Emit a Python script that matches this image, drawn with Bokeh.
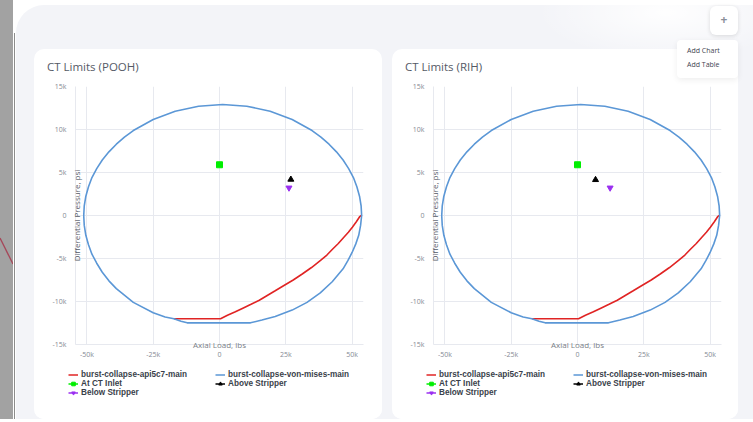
from bokeh.plotting import figure
from bokeh.models import Range1d, FixedTicker, Legend, LegendItem, Div
from bokeh.layouts import row, column
from bokeh.embed import file_html
from bokeh.resources import INLINE

FONT = "Open Sans"
LEG_FONT = "Liberation Sans"

# ---------------- data ----------------
von_mises_x = [53600, 53400, 52800, 51800, 50500, 48700, 46600, 44100, 41300, 38250, 34900, 27400,
               19100, 10300, 1200, -7900, -16700, -25000, -32500, -35850, -38900, -41700, -44200,
               -46300, -48100, -49400, -50400, -51000, -51200,
               -51000, -50400, -49400, -48100, -46300, -44200, -41700, -38900, -32500, -25000,
               -20500, -17200, -14500, -12200,
               11700, 16000, 21000, 27400, 33000, 38000, 42500, 46600, 48400, 50000, 51400,
               52500, 53200, 53600]
von_mises_y = [0, 1120, 2240, 3340, 4410, 5450, 6450, 7400, 8290, 9120, 9880, 11170,
               12130, 12710, 12900, 12710, 12130, 11170, 9880, 9120, 8290, 7400, 6450,
               5450, 4410, 3340, 2240, 1120, 0,
               -1150, -2300, -3400, -4500, -5550, -6600, -7600, -8500, -10100, -11300,
               -11800, -12000, -12300, -12480,
               -12480, -12150, -11750, -11000, -10100, -9000, -7700, -6200, -5250, -4300, -3300,
               -2300, -1150, 0]

api_x = [-17200, 400, 3000, 6000, 9000, 11700, 15000, 18000, 21000, 24300, 27800, 31200,
         34700, 38100, 40500, 42500, 44800, 46900, 48600, 50100, 51600, 52900, 53400]
api_y = [-12000, -12000, -11600, -11200, -10750, -10350, -9850, -9300, -8750, -8140, -7500, -6800,
         -6050, -5230, -4600, -3950, -3250, -2520, -1950, -1360, -720, -120, 0]

marker_names = ["At CT Inlet", "Above Stripper", "Below Stripper"]
marker_colors = ["#00ee00", "#000000", "#9b30f0"]
marker_shapes = ["square", "triangle", "inverted_triangle"]
pooh_marker_x = [0, 26900, 26200]
pooh_marker_y = [5900, 4190, 3220]
rih_marker_x = [0, 6800, 12300]
rih_marker_y = [5900, 4150, 3220]

x_ticks = [-50000, -25000, 0, 25000, 50000]
x_tick_labels = ["-50k", "-25k", "0", "25k", "50k"]
y_ticks = [-15000, -10000, -5000, 0, 5000, 10000, 15000]
y_tick_labels = ["-15k", "-10k", "-5k", "0", "5k", "10k", "15k"]

series_names = ["burst-collapse-api5c7-main", "burst-collapse-von-mises-main"]
chart_titles = ["CT Limits (POOH)", "CT Limits (RIH)"]
RED = "#e02424"
BLUE = "#5b97d6"
GRID = "#e7e9ef"


def make_title(text, width):
    html = ('<div style="position:absolute;left:13px;top:11px;font-family:\'Open Sans\';'
            'font-size:11.5px;line-height:14px;color:#555a66;white-space:nowrap;">%s</div>' % text)
    return Div(text=html, width=width, height=31, margin=0, styles={"position": "relative"})


def make_chart(mx, my, width, border_left, border_right):
    p = figure(width=width, height=285, output_backend="svg", toolbar_location=None,
               x_range=Range1d(-54300, 54300), y_range=Range1d(-15000, 15000),
               min_border_left=border_left, min_border_right=border_right,
               min_border_top=6, min_border_bottom=21,
               background_fill_color="white", border_fill_color="white",
               outline_line_color=None)

    for ax, ticks, labels in ((p.xaxis[0], x_ticks, x_tick_labels), (p.yaxis[0], y_ticks, y_tick_labels)):
        ax.ticker = FixedTicker(ticks=ticks)
        ax.major_label_overrides = {t: l for t, l in zip(ticks, labels)}
        ax.major_tick_line_color = None
        ax.major_tick_out = 0
        ax.major_tick_in = 0
        ax.minor_tick_line_color = None
        ax.minor_tick_out = 0
        ax.axis_line_color = GRID
        ax.major_label_text_font = FONT
        ax.major_label_text_font_size = "7px"
        ax.major_label_text_color = "#858a94"
        ax.axis_label_text_font = FONT
        ax.axis_label_text_font_size = "8px"
        ax.axis_label_text_font_style = "normal"
    p.xaxis.major_label_standoff = 5
    p.yaxis.major_label_standoff = 9
    p.xaxis.axis_label = "Axial Load, lbs"
    p.xaxis.axis_label_text_color = "#7a7f88"
    p.xaxis.axis_label_standoff = -23
    p.yaxis.axis_label = "Differential Pressure, psi"
    p.yaxis.axis_label_text_color = "#555a66"
    p.yaxis.axis_label_standoff = -32

    p.xgrid.ticker = FixedTicker(ticks=x_ticks)
    p.ygrid.ticker = FixedTicker(ticks=y_ticks)
    p.grid.grid_line_color = GRID

    p.line(api_x, api_y, line_color=RED, line_width=1.6)
    p.line(von_mises_x, von_mises_y, line_color=BLUE, line_width=1.6)
    for c, shp, x, y in zip(marker_colors, marker_shapes, mx, my):
        p.scatter([x], [y], marker=shp, size=6, fill_color=c, line_color=c)
    return p


def make_legend(mx, my, width):
    # small figure that only carries the legend (its glyph renderers lie outside its view)
    q = figure(width=width, height=54, output_backend="svg", toolbar_location=None,
               x_range=Range1d(-1e9, -1e9 + 1), y_range=Range1d(-1e9, -1e9 + 1),
               min_border=0, background_fill_color="white", border_fill_color="white",
               outline_line_color=None, x_axis_location=None, y_axis_location=None)
    q.grid.visible = False
    r_api = q.line(api_x, api_y, line_color=RED, line_width=1.6)
    r_vm = q.line(von_mises_x, von_mises_y, line_color=BLUE, line_width=1.6)
    items = [LegendItem(label=series_names[0], renderers=[r_api]),
             LegendItem(label=series_names[1], renderers=[r_vm])]
    for name, c, shp, x, y in zip(marker_names, marker_colors, marker_shapes, mx, my):
        ln = q.line([x, x], [y, y], line_color=c, line_width=1.6)
        sc = q.scatter([x], [y], marker=shp, size=6, fill_color=c, line_color=c)
        items.append(LegendItem(label=name, renderers=[ln, sc]))
    leg = Legend(items=items, orientation="horizontal", ncols=2, location=(34, 22),
                 glyph_width=10, glyph_height=9, label_height=9, label_width=134,
                 label_standoff=3, spacing=0, padding=0, margin=0,
                 label_text_font=LEG_FONT, label_text_font_size="8.2px", label_text_font_style="bold",
                 label_text_color="#3a3f4a", background_fill_alpha=0, border_line_color=None)
    q.add_layout(leg)
    return q


CARD_STYLE = {"background-color": "white", "border-radius": "10px", "overflow": "hidden"}
card1 = column(make_title(chart_titles[0], 348),
               make_chart(pooh_marker_x, pooh_marker_y, 348, 41, 19),
               row(make_legend(pooh_marker_x, pooh_marker_y, 348), margin=0),
               width=348, height=370, spacing=0, margin=0, styles=CARD_STYLE)
card2 = column(make_title(chart_titles[1], 346),
               make_chart(rih_marker_x, rih_marker_y, 346, 41, 17),
               row(make_legend(rih_marker_x, rih_marker_y, 346), margin=0),
               width=346, height=370, spacing=0, margin=0, styles=CARD_STYLE)

top_html = """
<div style="position:relative;width:737px;height:44px;">
 <div style="position:absolute;left:520px;top:-40px;width:260px;height:95px;
      background:radial-gradient(ellipse at center, rgba(255,255,255,0.95) 0%, rgba(255,255,255,0) 70%);"></div>
 <div style="position:absolute;left:694px;top:1px;width:28px;height:29px;background:#fff;border-radius:6px;
      box-shadow:0 1px 4px rgba(0,0,0,0.13);text-align:center;line-height:28px;color:#8a8f99;
      font-family:'Open Sans';font-weight:bold;font-size:12px;">+</div>
 <div style="position:absolute;left:661px;top:35px;width:61px;height:38px;background:#fff;border-radius:4px;
      box-shadow:0 2px 6px rgba(0,0,0,0.07);z-index:20;font-family:'Open Sans';font-size:7px;color:#3f4450;">
   <div style="position:absolute;left:10px;top:6px;">Add Chart</div>
   <div style="position:absolute;left:10px;top:20px;">Add Table</div>
 </div>
</div>
"""
top_div = Div(text=top_html, width=737, height=44, margin=0,
              styles={"overflow": "visible", "z-index": "20", "position": "relative"})

cards = row(card1, card2, spacing=10, margin=(0, 0, 0, 18))
panel = column(top_div, cards, width=737, height=414, spacing=0, margin=(5, 0, 0, 0),
               styles={"background-color": "#f3f4f8", "border-top-left-radius": "28px"})

strip_html = """
<div style="position:relative;width:16px;height:419px;">
 <div style="position:absolute;left:0;top:0;width:13px;height:419px;background:#a2a2a2;"></div>
 <div style="position:absolute;left:14px;top:33px;width:1px;height:386px;background:#8c8c8c;"></div>
 <svg style="position:absolute;left:0;top:0;" width="13" height="419">
   <line x1="0" y1="238" x2="13" y2="264" stroke="#a5485a" stroke-width="1.4"/>
 </svg>
</div>
"""
strip = Div(text=strip_html, width=16, height=419, margin=0, styles={"background-color": "#ffffff"})

root = row(strip, panel, spacing=0, margin=0)

open("out.html", "w").write(file_html(root, INLINE))
